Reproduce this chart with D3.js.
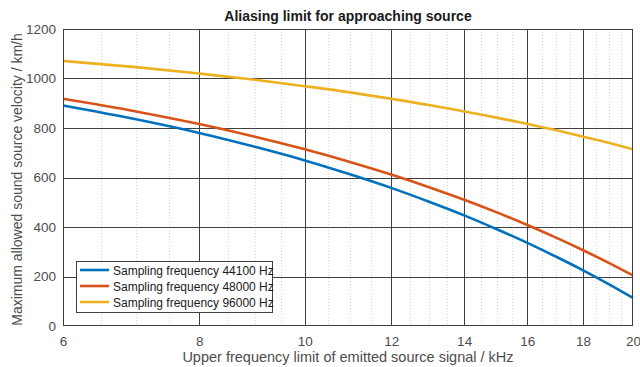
<!DOCTYPE html>
<html><head><meta charset="utf-8">
<script src="https://cdn.jsdelivr.net/npm/d3@7"></script>
<style>body{margin:0;background:#fff}svg{display:block}text{font-family:"Liberation Sans",Arial,sans-serif}</style>
</head><body>
<svg id="c" width="640" height="367"></svg>
<script>
const freqs = [6,7,8,9,10,11,12,13,14,15,16,17,18,19,20];
const v44100 = [891,835,780,724,669,613,558,502,447,391,336,280,225,169,114];
const v48000 = [918,867,816,765,714,663,612,561,510,459,408,357,306,255,204];
const v96000 = [1071,1046,1020,995,969,944,918,893,867,842,816,791,765,740,714];
const seriesNames = ["Sampling frequency 44100 Hz","Sampling frequency 48000 Hz","Sampling frequency 96000 Hz"];
const colors = ["#0072BD","#D95319","#EDB120"];
const xTicks = [6,8,10,12,14,16,18,20];
const xMinor = [6.5,7,7.5,8.5,9,9.5,10.5,11,11.5,12.5,13,13.5,14.5,15,15.5,16.5,17,17.5,18.5,19,19.5];
const yTicks = [0,200,400,600,800,1000,1200];

const svg = d3.select("#c");
const L=63, R=633, T=29, B=326;
const x = d3.scaleLog().domain([6,20]).range([L,R]);
const y = d3.scaleLinear().domain([0,1200]).range([B,T]);
const g = svg.append("g");

// minor grid
g.selectAll(".mn").data(xMinor).join("line")
 .attr("x1",d=>Math.round(x(d))+0.5).attr("x2",d=>Math.round(x(d))+0.5)
 .attr("y1",T).attr("y2",B).attr("stroke","#d4d4d4").attr("stroke-width",1).attr("stroke-dasharray","1,2");
// major grid
g.selectAll(".mx").data(xTicks.slice(1,-1)).join("line")
 .attr("x1",d=>Math.round(x(d))+0.5).attr("x2",d=>Math.round(x(d))+0.5)
 .attr("y1",T).attr("y2",B).attr("stroke","#404040").attr("stroke-width",1);
g.selectAll(".my").data(yTicks.slice(1,-1)).join("line")
 .attr("x1",L).attr("x2",R)
 .attr("y1",d=>Math.round(y(d))+0.5).attr("y2",d=>Math.round(y(d))+0.5).attr("stroke","#404040").attr("stroke-width",1);

// axes
const xa = d3.axisBottom(x).tickValues(xTicks).tickFormat(d3.format("d")).tickSize(0).tickPadding(10);
const ya = d3.axisLeft(y).tickValues(yTicks).tickFormat(d3.format("d")).tickSize(0).tickPadding(7);
const gx = svg.append("g").attr("transform",`translate(0,${B})`).call(xa);
const gy = svg.append("g").attr("transform",`translate(${L},0)`).call(ya);
[gx,gy].forEach(a=>{a.select(".domain").remove();a.selectAll("text").attr("fill","#4d4d4d").style("font-size","13.5px");});

// lines
const line = d3.line().x((d,i)=>x(freqs[i])).y(d=>y(d)).curve(d3.curveMonotoneX);
[v44100,v48000,v96000].forEach((s,i)=>{
  svg.append("path").attr("d",line(s)).attr("fill","none").attr("stroke",colors[i]).attr("stroke-width",2.6);
});

// box
svg.append("rect").attr("x",L+0.5).attr("y",T+0.5).attr("width",R-L-1).attr("height",B-T-1)
 .attr("fill","none").attr("stroke","#404040").attr("stroke-width",1);

// title & labels
svg.append("text").attr("x",(L+R)/2).attr("y",21).attr("text-anchor","middle")
 .style("font-size","14px").style("font-weight","bold").attr("fill","#1a1a1a").text("Aliasing limit for approaching source");
svg.append("text").attr("x",(L+R)/2).attr("y",362).attr("text-anchor","middle")
 .style("font-size","14.5px").attr("fill","#4d4d4d").text("Upper frequency limit of emitted source signal / kHz");
svg.append("text").attr("transform",`translate(22,${(T+B)/2+2}) rotate(-90)`).attr("text-anchor","middle")
 .style("font-size","14px").attr("fill","#4d4d4d").text("Maximum allowed sound source velocity / km/h");

// legend
const lg = svg.append("g");
lg.append("rect").attr("x",76.5).attr("y",261.5).attr("width",196).attr("height",51)
 .attr("fill","#fff").attr("stroke","#404040").attr("stroke-width",1);
seriesNames.forEach((n,i)=>{
  const yy = 270 + i*16;
  lg.append("line").attr("x1",80).attr("x2",109).attr("y1",yy).attr("y2",yy).attr("stroke",colors[i]).attr("stroke-width",2.6);
  lg.append("text").attr("x",113).attr("y",yy+4.5).style("font-size","12px").attr("fill","#1a1a1a").text(n);
});
</script>
</body></html>
